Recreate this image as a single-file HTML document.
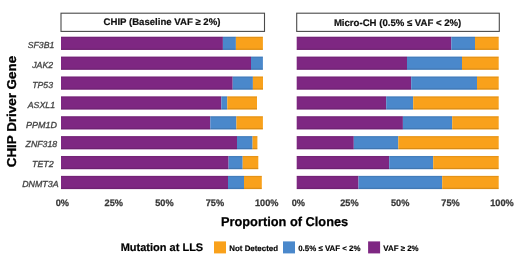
<!DOCTYPE html>
<html><head><meta charset="utf-8"><style>
html,body{margin:0;padding:0;background:#fff;width:520px;height:264px;overflow:hidden}
svg{display:block;will-change:transform}
text{font-family:"Liberation Sans",sans-serif;text-rendering:geometricPrecision}
.st{font-size:9.6px;font-weight:bold;fill:#111;stroke:#111;stroke-width:0.2px;text-anchor:middle}
.yl{font-size:8.7px;font-style:italic;fill:#444;stroke:#444;stroke-width:0.3px}
.xl{font-size:9.2px;font-weight:bold;fill:#383838;stroke:#383838;stroke-width:0.25px;text-anchor:middle}
.yt{font-size:13.4px;font-weight:bold;fill:#000;stroke:#000;stroke-width:0.3px;text-anchor:middle}
.xt{font-size:12.8px;font-weight:bold;fill:#000;stroke:#000;stroke-width:0.25px;text-anchor:middle}
.lt{font-size:11px;font-weight:bold;fill:#000;stroke:#000;stroke-width:0.2px}
.ll{font-size:7.9px;font-weight:bold;fill:#000;stroke:#000;stroke-width:0.15px}
</style></head><body>
<svg width="520" height="264" viewBox="0 0 520 264">
<rect width="520" height="264" fill="#fff"/>
<rect x="61" y="13.2" width="203.5" height="18.2" fill="#fff" stroke="#4a4a4a" stroke-width="1.1"/>
<rect x="296.7" y="13.2" width="202.6" height="18.2" fill="#fff" stroke="#4a4a4a" stroke-width="1.1"/>
<rect x="61.00" y="36.70" width="161.90" height="13.25" fill="#7E2782"/><rect x="222.90" y="36.70" width="13.00" height="13.25" fill="#4A88CB"/><rect x="235.90" y="36.70" width="27.00" height="13.25" fill="#F9A11B"/><rect x="61.00" y="37.00" width="201.90" height="0.9" fill="#000" opacity="0.10"/><rect x="61.00" y="48.65" width="201.90" height="1.0" fill="#000" opacity="0.14"/><rect x="61.00" y="56.58" width="190.00" height="13.25" fill="#7E2782"/><rect x="251.00" y="56.58" width="11.90" height="13.25" fill="#4A88CB"/><rect x="61.00" y="56.88" width="201.90" height="0.9" fill="#000" opacity="0.10"/><rect x="61.00" y="68.53" width="201.90" height="1.0" fill="#000" opacity="0.14"/><rect x="61.00" y="76.46" width="171.70" height="13.25" fill="#7E2782"/><rect x="232.70" y="76.46" width="20.20" height="13.25" fill="#4A88CB"/><rect x="252.90" y="76.46" width="10.10" height="13.25" fill="#F9A11B"/><rect x="61.00" y="76.76" width="202.00" height="0.9" fill="#000" opacity="0.10"/><rect x="61.00" y="88.41" width="202.00" height="1.0" fill="#000" opacity="0.14"/><rect x="61.00" y="96.34" width="160.30" height="13.25" fill="#7E2782"/><rect x="221.30" y="96.34" width="6.00" height="13.25" fill="#4A88CB"/><rect x="227.30" y="96.34" width="29.70" height="13.25" fill="#F9A11B"/><rect x="61.00" y="96.64" width="196.00" height="0.9" fill="#000" opacity="0.10"/><rect x="61.00" y="108.29" width="196.00" height="1.0" fill="#000" opacity="0.14"/><rect x="61.00" y="116.22" width="149.30" height="13.25" fill="#7E2782"/><rect x="210.30" y="116.22" width="26.10" height="13.25" fill="#4A88CB"/><rect x="236.40" y="116.22" width="26.50" height="13.25" fill="#F9A11B"/><rect x="61.00" y="116.52" width="201.90" height="0.9" fill="#000" opacity="0.10"/><rect x="61.00" y="128.17" width="201.90" height="1.0" fill="#000" opacity="0.14"/><rect x="61.00" y="136.10" width="176.00" height="13.25" fill="#7E2782"/><rect x="237.00" y="136.10" width="15.60" height="13.25" fill="#4A88CB"/><rect x="252.60" y="136.10" width="4.80" height="13.25" fill="#F9A11B"/><rect x="61.00" y="136.40" width="196.40" height="0.9" fill="#000" opacity="0.10"/><rect x="61.00" y="148.05" width="196.40" height="1.0" fill="#000" opacity="0.14"/><rect x="61.00" y="155.98" width="167.60" height="13.25" fill="#7E2782"/><rect x="228.60" y="155.98" width="14.10" height="13.25" fill="#4A88CB"/><rect x="242.70" y="155.98" width="15.60" height="13.25" fill="#F9A11B"/><rect x="61.00" y="156.28" width="197.30" height="0.9" fill="#000" opacity="0.10"/><rect x="61.00" y="167.93" width="197.30" height="1.0" fill="#000" opacity="0.14"/><rect x="61.00" y="175.86" width="167.00" height="13.25" fill="#7E2782"/><rect x="228.00" y="175.86" width="16.00" height="13.25" fill="#4A88CB"/><rect x="244.00" y="175.86" width="17.80" height="13.25" fill="#F9A11B"/><rect x="61.00" y="176.16" width="200.80" height="0.9" fill="#000" opacity="0.10"/><rect x="61.00" y="187.81" width="200.80" height="1.0" fill="#000" opacity="0.14"/><rect x="296.70" y="36.70" width="154.60" height="13.25" fill="#7E2782"/><rect x="451.30" y="36.70" width="23.70" height="13.25" fill="#4A88CB"/><rect x="475.00" y="36.70" width="23.70" height="13.25" fill="#F9A11B"/><rect x="296.70" y="37.00" width="202.00" height="0.9" fill="#000" opacity="0.10"/><rect x="296.70" y="48.65" width="202.00" height="1.0" fill="#000" opacity="0.14"/><rect x="296.70" y="56.58" width="110.30" height="13.25" fill="#7E2782"/><rect x="407.00" y="56.58" width="55.00" height="13.25" fill="#4A88CB"/><rect x="462.00" y="56.58" width="36.70" height="13.25" fill="#F9A11B"/><rect x="296.70" y="56.88" width="202.00" height="0.9" fill="#000" opacity="0.10"/><rect x="296.70" y="68.53" width="202.00" height="1.0" fill="#000" opacity="0.14"/><rect x="296.70" y="76.46" width="114.50" height="13.25" fill="#7E2782"/><rect x="411.20" y="76.46" width="65.80" height="13.25" fill="#4A88CB"/><rect x="477.00" y="76.46" width="21.70" height="13.25" fill="#F9A11B"/><rect x="296.70" y="76.76" width="202.00" height="0.9" fill="#000" opacity="0.10"/><rect x="296.70" y="88.41" width="202.00" height="1.0" fill="#000" opacity="0.14"/><rect x="296.70" y="96.34" width="89.50" height="13.25" fill="#7E2782"/><rect x="386.20" y="96.34" width="27.00" height="13.25" fill="#4A88CB"/><rect x="413.20" y="96.34" width="85.50" height="13.25" fill="#F9A11B"/><rect x="296.70" y="96.64" width="202.00" height="0.9" fill="#000" opacity="0.10"/><rect x="296.70" y="108.29" width="202.00" height="1.0" fill="#000" opacity="0.14"/><rect x="296.70" y="116.22" width="106.20" height="13.25" fill="#7E2782"/><rect x="402.90" y="116.22" width="49.30" height="13.25" fill="#4A88CB"/><rect x="452.20" y="116.22" width="46.50" height="13.25" fill="#F9A11B"/><rect x="296.70" y="116.52" width="202.00" height="0.9" fill="#000" opacity="0.10"/><rect x="296.70" y="128.17" width="202.00" height="1.0" fill="#000" opacity="0.14"/><rect x="296.70" y="136.10" width="57.10" height="13.25" fill="#7E2782"/><rect x="353.80" y="136.10" width="44.50" height="13.25" fill="#4A88CB"/><rect x="398.30" y="136.10" width="100.40" height="13.25" fill="#F9A11B"/><rect x="296.70" y="136.40" width="202.00" height="0.9" fill="#000" opacity="0.10"/><rect x="296.70" y="148.05" width="202.00" height="1.0" fill="#000" opacity="0.14"/><rect x="296.70" y="155.98" width="92.50" height="13.25" fill="#7E2782"/><rect x="389.20" y="155.98" width="44.00" height="13.25" fill="#4A88CB"/><rect x="433.20" y="155.98" width="65.50" height="13.25" fill="#F9A11B"/><rect x="296.70" y="156.28" width="202.00" height="0.9" fill="#000" opacity="0.10"/><rect x="296.70" y="167.93" width="202.00" height="1.0" fill="#000" opacity="0.14"/><rect x="296.70" y="175.86" width="61.80" height="13.25" fill="#7E2782"/><rect x="358.50" y="175.86" width="83.70" height="13.25" fill="#4A88CB"/><rect x="442.20" y="175.86" width="56.50" height="13.25" fill="#F9A11B"/><rect x="296.70" y="176.16" width="202.00" height="0.9" fill="#000" opacity="0.10"/><rect x="296.70" y="187.81" width="202.00" height="1.0" fill="#000" opacity="0.14"/>
<rect x="214" y="241.4" width="12" height="12" fill="#F9A11B"/>
<rect x="283" y="241.4" width="12" height="12" fill="#4A88CB"/>
<rect x="368.1" y="241.4" width="12" height="12" fill="#7E2782"/>
<text transform="translate(27.70,48.30)" class="yl">SF3B1</text>
<text transform="translate(32.25,68.10)" class="yl">JAK2</text>
<text transform="translate(32.20,87.90)" class="yl">TP53</text>
<text transform="translate(27.70,107.70) scale(1.01,1.0)" class="yl">ASXL1</text>
<text transform="translate(26.10,127.50) scale(1.032,1.0)" class="yl">PPM1D</text>
<text transform="translate(25.60,147.30) scale(1.006,1.0)" class="yl">ZNF318</text>
<text transform="translate(32.00,167.10) scale(1.023,1.0)" class="yl">TET2</text>
<text transform="translate(22.20,186.90) scale(1.019,1.0)" class="yl">DNMT3A</text>
<text transform="translate(62.40,205.50) scale(1.0,1.03)" class="xl">0%</text>
<text transform="translate(113.80,205.50) scale(1.0,1.03)" class="xl">25%</text>
<text transform="translate(164.40,205.50) scale(1.0,1.03)" class="xl">50%</text>
<text transform="translate(214.90,205.50) scale(1.0,1.03)" class="xl">75%</text>
<text transform="translate(266.70,205.50) scale(1.0,1.03)" class="xl">100%</text>
<text transform="translate(298.30,205.50) scale(1.0,1.03)" class="xl">0%</text>
<text transform="translate(349.40,205.50) scale(1.0,1.03)" class="xl">25%</text>
<text transform="translate(400.20,205.50) scale(1.0,1.03)" class="xl">50%</text>
<text transform="translate(450.50,205.50) scale(1.0,1.03)" class="xl">75%</text>
<text transform="translate(502.00,205.50) scale(1.0,1.03)" class="xl">100%</text>
<text transform="translate(162.00,25.45)" class="st">CHIP (Baseline VAF ≥ 2%)</text>
<text transform="translate(397.60,25.65)" class="st">Micro-CH (0.5% ≤ VAF &lt; 2%)</text>
<text transform="translate(15.70,111.60) rotate(-90) scale(1.0,0.96)" class="yt">CHIP Driver Gene</text>
<text transform="translate(284.60,226.20)" class="xt">Proportion of Clones</text>
<text transform="translate(120.70,251.00)" class="lt">Mutation at LLS</text>
<text transform="translate(229.30,250.70)" class="ll">Not Detected</text>
<text transform="translate(298.20,250.70)" class="ll">0.5% ≤ VAF &lt; 2%</text>
<text transform="translate(383.30,250.70)" class="ll">VAF ≥ 2%</text>
</svg>
</body></html>
